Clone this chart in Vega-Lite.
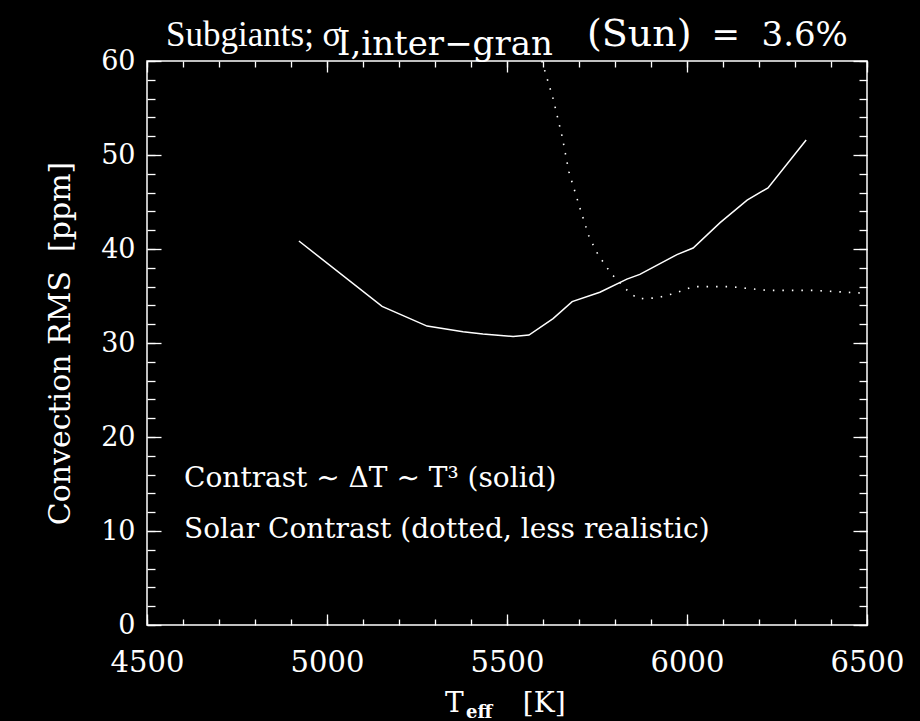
{
  "$schema": "https://vega.github.io/schema/vega-lite/v6.json",
  "width": 720,
  "height": 564,
  "autosize": {"type": "none"},
  "padding": {"left": 147, "top": 61, "right": 53, "bottom": 96},
  "background": "black",
  "config": {
    "view": {"stroke": "white", "strokeWidth": 1.5, "fill": "black"},
    "axis": {"domain": false, "grid": false, "labelColor": "white", "tickColor": "white", "titleColor": "white", "labelFont": "DejaVu Serif", "titleFont": "DejaVu Serif", "tickWidth": 1.3, "titleFontWeight": "normal", "format": "d"},
    "text": {"font": "DejaVu Serif", "color": "white", "align": "left", "baseline": "alphabetic"}
  },
  "datasets": {
    "solid": [
      {"teff": 4922, "rms": 40.85}, {"teff": 5153, "rms": 33.9}, {"teff": 5278, "rms": 31.8},
      {"teff": 5378, "rms": 31.2}, {"teff": 5433, "rms": 30.96}, {"teff": 5517, "rms": 30.7},
      {"teff": 5561, "rms": 30.85}, {"teff": 5628, "rms": 32.6}, {"teff": 5681, "rms": 34.4},
      {"teff": 5758, "rms": 35.4}, {"teff": 5833, "rms": 36.8}, {"teff": 5869, "rms": 37.3},
      {"teff": 5972, "rms": 39.4}, {"teff": 6017, "rms": 40.1}, {"teff": 6092, "rms": 42.8},
      {"teff": 6167, "rms": 45.2}, {"teff": 6225, "rms": 46.5}, {"teff": 6331, "rms": 51.6}
    ],
    "dotted": [
      {"teff": 5597, "rms": 60.0}, {"teff": 5628, "rms": 56.0}, {"teff": 5653, "rms": 52.0},
      {"teff": 5672, "rms": 48.2}, {"teff": 5703, "rms": 44.3}, {"teff": 5728, "rms": 41.3},
      {"teff": 5753, "rms": 39.4}, {"teff": 5789, "rms": 37.4}, {"teff": 5839, "rms": 35.4},
      {"teff": 5864, "rms": 34.7}, {"teff": 5917, "rms": 34.8}, {"teff": 5967, "rms": 35.3},
      {"teff": 6017, "rms": 36.0}, {"teff": 6119, "rms": 36.0}, {"teff": 6222, "rms": 35.6},
      {"teff": 6350, "rms": 35.6}, {"teff": 6490, "rms": 35.3}
    ],
    "legend": [
      {"teff": 4603, "rms": 14.7, "label": "Contrast ∼ ΔT ∼ T³ (solid)"},
      {"teff": 4603, "rms": 9.25, "label": "Solar Contrast (dotted, less realistic)"}
    ],
    "titlemain": [
      {"teff": 4553, "rms": 61.6, "label": "Subgiants; σ"}
    ],
    "titlesun": [
      {"teff": 5722, "rms": 61.6, "label": "(Sun)"}
    ],
    "titleright": [
      {"teff": 6447, "rms": 61.6, "label": "=\u00a0\u00a03.6%"}
    ],
    "titlesub": [
      {"teff": 5028, "rms": 60.6, "label": "I,inter−gran"}
    ],
    "xtitle": [
      {"teff": 5328, "rms": -9.26, "label": "T"},
      {"teff": 5544, "rms": -9.26, "label": "[K]"}
    ],
    "xtitlesub": [
      {"teff": 5386, "rms": -9.9, "label": "eff"}
    ]
  },
  "layer": [
    {
      "data": {"name": "solid"},
      "mark": {"type": "line", "color": "white", "strokeWidth": 1.5},
      "encoding": {
        "x": {"field": "teff", "type": "quantitative", "scale": {"domain": [4500, 6500], "nice": false, "zero": false},
              "axis": {"orient": "bottom", "values": [4500, 5000, 5500, 6000, 6500], "ticks": false, "labelPadding": 23, "labelFontSize": 29, "labelFlush": false, "labelOverlap": false, "title": null}},
        "y": {"field": "rms", "type": "quantitative", "scale": {"domain": [0, 60], "nice": false, "zero": false},
              "axis": {"orient": "left", "values": [0, 10, 20, 30, 40, 50, 60], "ticks": false, "labelPadding": 12, "labelFontSize": 27, "labelFlush": false, "labelOverlap": false,
                       "title": "Convection RMS\u00a0\u00a0[ppm]", "titleFontSize": 30, "titlePadding": 25}}
      }
    },
    {
      "data": {"name": "dotted"},
      "mark": {"type": "line", "color": "white", "strokeWidth": 1.6, "strokeDash": [1.5, 8]},
      "encoding": {
        "x": {"field": "teff", "type": "quantitative", "scale": {"domain": [4500, 6500], "nice": false, "zero": false},
              "axis": {"orient": "bottom", "values": [4500, 5000, 5500, 6000, 6500], "tickSize": -11, "labels": false, "title": null}},
        "y": {"field": "rms", "type": "quantitative", "scale": {"domain": [0, 60], "nice": false, "zero": false},
              "axis": {"orient": "left", "values": [0, 10, 20, 30, 40, 50, 60], "tickSize": -14, "labels": false, "title": null}}
      }
    },
    {
      "data": {"name": "legend"},
      "mark": {"type": "text", "fontSize": 28},
      "encoding": {
        "x": {"field": "teff", "type": "quantitative", "scale": {"domain": [4500, 6500], "nice": false, "zero": false},
              "axis": {"orient": "bottom", "values": [4500, 4600, 4700, 4800, 4900, 5000, 5100, 5200, 5300, 5400, 5500, 5600, 5700, 5800, 5900, 6000, 6100, 6200, 6300, 6400, 6500], "tickSize": -6, "labels": false, "title": null}},
        "y": {"field": "rms", "type": "quantitative", "scale": {"domain": [0, 60], "nice": false, "zero": false},
              "axis": {"orient": "left", "values": [0, 2, 4, 6, 8, 10, 12, 14, 16, 18, 20, 22, 24, 26, 28, 30, 32, 34, 36, 38, 40, 42, 44, 46, 48, 50, 52, 54, 56, 58, 60], "tickSize": -8, "labels": false, "title": null}},
        "text": {"field": "label"}
      }
    },
    {
      "data": {"name": "titlemain"},
      "mark": {"type": "text", "fontSize": 35, "font": "Liberation Serif"},
      "encoding": {
        "x": {"field": "teff", "type": "quantitative", "scale": {"domain": [4500, 6500], "nice": false, "zero": false},
              "axis": {"orient": "top", "values": [4500, 5000, 5500, 6000, 6500], "tickSize": -11, "labels": false, "title": null}},
        "y": {"field": "rms", "type": "quantitative", "scale": {"domain": [0, 60], "nice": false, "zero": false},
              "axis": {"orient": "right", "values": [0, 10, 20, 30, 40, 50, 60], "tickSize": -14, "labels": false, "title": null}},
        "text": {"field": "label"}
      }
    },
    {
      "data": {"name": "titlesub"},
      "mark": {"type": "text", "fontSize": 34},
      "encoding": {
        "x": {"field": "teff", "type": "quantitative", "scale": {"domain": [4500, 6500], "nice": false, "zero": false},
              "axis": {"orient": "top", "values": [4500, 4600, 4700, 4800, 4900, 5000, 5100, 5200, 5300, 5400, 5500, 5600, 5700, 5800, 5900, 6000, 6100, 6200, 6300, 6400, 6500], "tickSize": -6, "labels": false, "title": null}},
        "y": {"field": "rms", "type": "quantitative", "scale": {"domain": [0, 60], "nice": false, "zero": false},
              "axis": {"orient": "right", "values": [0, 2, 4, 6, 8, 10, 12, 14, 16, 18, 20, 22, 24, 26, 28, 30, 32, 34, 36, 38, 40, 42, 44, 46, 48, 50, 52, 54, 56, 58, 60], "tickSize": -8, "labels": false, "title": null}},
        "text": {"field": "label"}
      }
    },
    {
      "data": {"name": "titlesun"},
      "mark": {"type": "text", "fontSize": 38},
      "encoding": {
        "x": {"field": "teff", "type": "quantitative", "scale": {"domain": [4500, 6500], "nice": false, "zero": false}, "axis": null},
        "y": {"field": "rms", "type": "quantitative", "scale": {"domain": [0, 60], "nice": false, "zero": false}, "axis": null},
        "text": {"field": "label"}
      }
    },
    {
      "data": {"name": "titleright"},
      "mark": {"type": "text", "fontSize": 34, "align": "right"},
      "encoding": {
        "x": {"field": "teff", "type": "quantitative", "scale": {"domain": [4500, 6500], "nice": false, "zero": false}, "axis": null},
        "y": {"field": "rms", "type": "quantitative", "scale": {"domain": [0, 60], "nice": false, "zero": false}, "axis": null},
        "text": {"field": "label"}
      }
    },
    {
      "data": {"name": "xtitle"},
      "mark": {"type": "text", "fontSize": 28},
      "encoding": {
        "x": {"field": "teff", "type": "quantitative", "scale": {"domain": [4500, 6500], "nice": false, "zero": false}, "axis": null},
        "y": {"field": "rms", "type": "quantitative", "scale": {"domain": [0, 60], "nice": false, "zero": false}, "axis": null},
        "text": {"field": "label"}
      }
    },
    {
      "data": {"name": "xtitlesub"},
      "mark": {"type": "text", "fontSize": 18, "fontWeight": "bold"},
      "encoding": {
        "x": {"field": "teff", "type": "quantitative", "scale": {"domain": [4500, 6500], "nice": false, "zero": false}, "axis": null},
        "y": {"field": "rms", "type": "quantitative", "scale": {"domain": [0, 60], "nice": false, "zero": false}, "axis": null},
        "text": {"field": "label"}
      }
    }
  ],
  "resolve": {"axis": {"x": "independent", "y": "independent"}}
}
